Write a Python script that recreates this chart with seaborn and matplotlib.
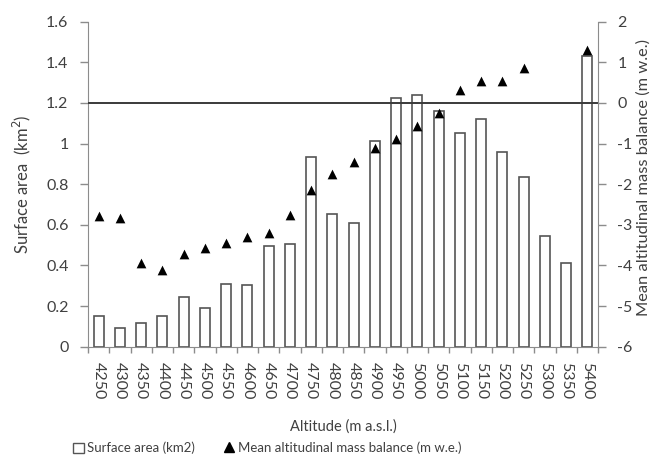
import numpy as np
import pandas as pd
import matplotlib
matplotlib.use("Agg")
import matplotlib.pyplot as plt
import seaborn as sns
from matplotlib.patches import Patch
from matplotlib.lines import Line2D

# Altitude bands (m a.s.l.)
altitudes = [4250, 4300, 4350, 4400, 4450, 4500, 4550, 4600, 4650, 4700, 4750, 4800,
             4850, 4900, 4950, 5000, 5050, 5100, 5150, 5200, 5250, 5300, 5350, 5400]

# Surface area per band (km2)
surface_area = [0.151, 0.094, 0.115, 0.151, 0.245, 0.189, 0.310, 0.302, 0.496, 0.504,
                0.934, 0.653, 0.610, 1.014, 1.222, 1.237, 1.160, 1.050, 1.121, 0.957,
                0.834, 0.546, 0.410, 1.429]

# Mean altitudinal mass balance per band (m w.e.); no value for 5300 and 5350
mass_balance = [-2.78, -2.82, -3.93, -4.12, -3.71, -3.58, -3.44, -3.30, -3.21, -2.75,
                -2.14, -1.74, -1.45, -1.10, -0.89, -0.56, -0.25, 0.33, 0.55, 0.55,
                0.85, np.nan, np.nan, 1.30]

left_ticks = [0, 0.2, 0.4, 0.6, 0.8, 1.0, 1.2, 1.4, 1.6]
left_tick_labels = ["0", "0.2", "0.4", "0.6", "0.8", "1", "1.2", "1.4", "1.6"]
right_ticks = [-6, -5, -4, -3, -2, -1, 0, 1, 2]

labels = [str(a) for a in altitudes]
df = pd.DataFrame({"altitude": labels, "area": surface_area, "mb": mass_balance})

sns.set_style("white")
plt.rcParams["font.family"] = ["Lato", "DejaVu Sans"]

text_col = "#404040"
spine_col = "#8c8c8c"
tick_fs = 11.5

fig = plt.figure(figsize=(6.55, 4.70), dpi=100)
ax = fig.add_axes([88 / 655, 1 - 346.7 / 470, 510 / 655, 325 / 470])

sns.barplot(data=df, x="altitude", y="area", order=labels, ax=ax, width=0.47,
            color="white", edgecolor="#555555", linewidth=1.2, saturation=1)
ax.set_ylim(0, 1.6)
ax.set_yticks(left_ticks)
ax.set_yticklabels(left_tick_labels)

ax2 = ax.twinx()
sns.stripplot(data=df.dropna(), x="altitude", y="mb", order=labels, ax=ax2,
              jitter=False, marker="^", color="black", size=7, linewidth=0)
ax2.set_ylim(-6, 2)
ax2.set_yticks(right_ticks)
ax2.set_yticklabels([str(t) for t in right_ticks])
ax2.axhline(0, color="#3a3a3a", linewidth=1.4, zorder=1)
ax2.set_xlim(-0.5, len(labels) - 0.5)

for a in (ax, ax2):
    for s in a.spines.values():
        s.set_visible(False)
    a.tick_params(axis="y", colors=spine_col, labelcolor=text_col, labelsize=tick_fs,
                  length=5.5, width=1, direction="out", pad=8.5)
    a.tick_params(axis="x", length=0, labelsize=tick_fs, labelcolor=text_col, pad=11)

ax.spines["left"].set_visible(True)
ax.spines["left"].set_color(spine_col)
ax.spines["bottom"].set_visible(True)
ax.spines["bottom"].set_color(spine_col)
ax2.spines["right"].set_visible(True)
ax2.spines["right"].set_color(spine_col)
ax.tick_params(axis="y", left=True, right=False)
ax2.tick_params(axis="y", right=True, left=False)

# category tick marks sit on the boundaries between bands
ax.set_xticks(np.arange(len(labels) + 1) - 0.5, minor=True)
ax.tick_params(axis="x", which="minor", length=4, width=1, color=spine_col,
               direction="out", bottom=True)

ax.set_xticks(range(len(labels)))
ax.set_xticklabels(labels, rotation=270, ha="center", va="top")
ax2.tick_params(axis="x", labelbottom=False)

ax.set_ylabel("Surface area  (km$^2$)", fontsize=12, color=text_col)
ax.yaxis.set_label_coords(-0.108, 0.5)
ax2.set_ylabel("Mean altitudinal mass balance (m w.e.)", fontsize=11.8,
               color=text_col, rotation=90)
ax2.yaxis.set_label_coords(1.0745, 0.52)
ax.set_xlabel("Altitude (m a.s.l.)", fontsize=10.5, color=text_col)
ax.xaxis.set_label_coords(0.5, -0.225)
ax2.set_xlabel("")

handles = [Patch(facecolor="white", edgecolor="#555555", linewidth=1.0),
           Line2D([], [], marker="^", color="black", linestyle="none", markersize=6.5)]
fig.legend(handles, ["Surface area (km2)", "Mean altitudinal mass balance (m w.e.)"],
           loc="center", bbox_to_anchor=(267.5 / 655, 1 - 448 / 470), ncol=2,
           frameon=False, fontsize=9.5, handlelength=0.8, handleheight=0.8,
           handletextpad=0.25, columnspacing=2.2, labelcolor=text_col)

fig.savefig("out.png", dpi=100)
